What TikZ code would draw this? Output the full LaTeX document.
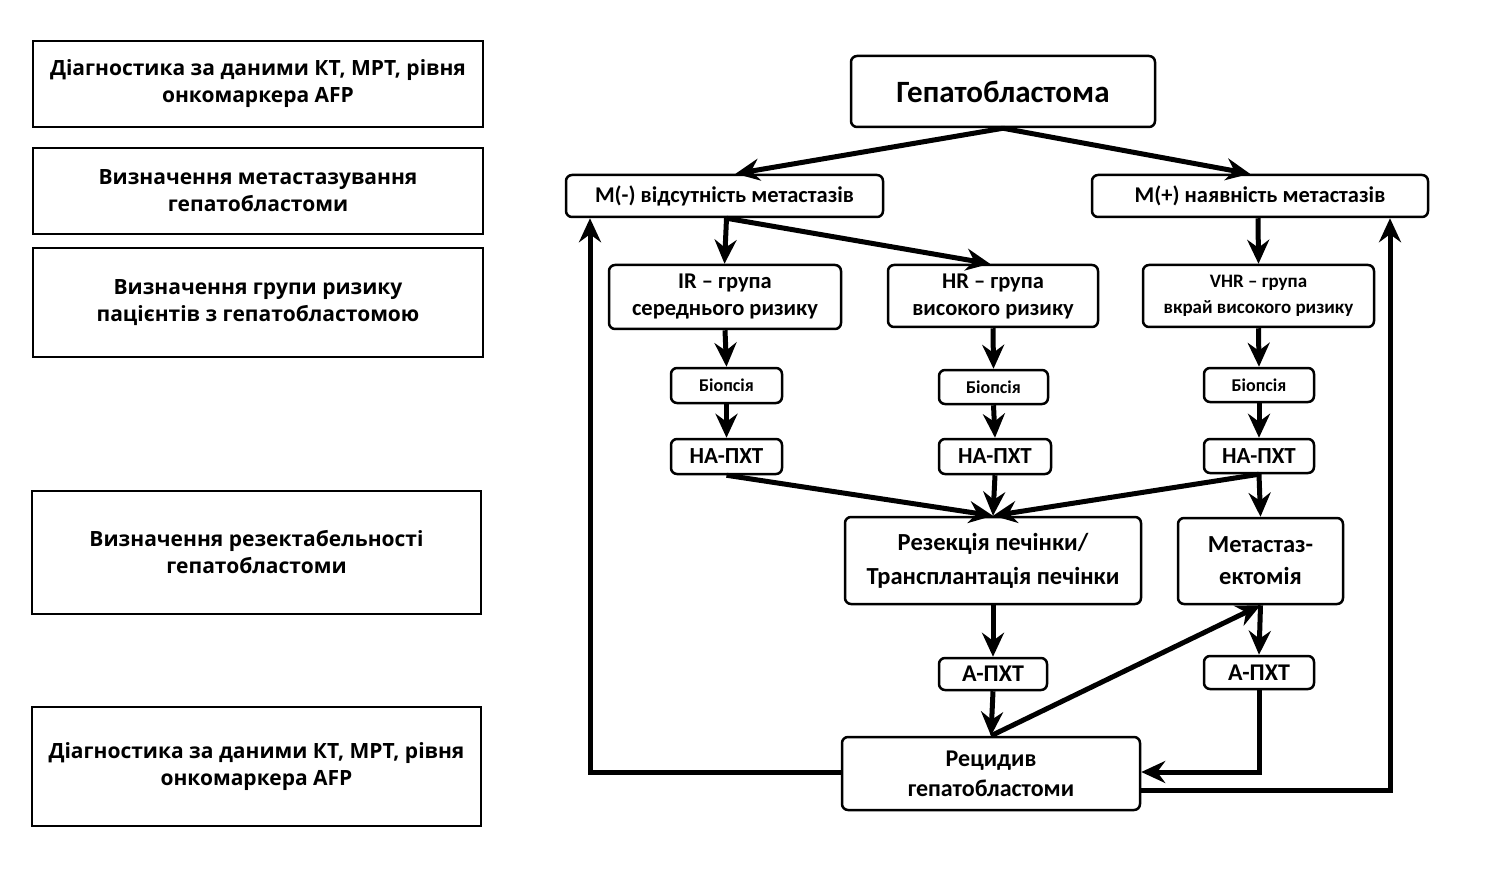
\documentclass[tikz,border=0pt]{standalone}
\usepackage{fontspec}
\setmainfont{Carlito}
\newfontfamily\leftfont{Open Sans}
\usetikzlibrary{arrows.meta}
\newcommand\bx[7]{%
  \pgfmathsetmacro\cxx{(#3+#5)/2}\pgfmathsetmacro\cyy{(#4+#6)/2}%
  \pgfmathsetmacro\ww{#5-#3}\pgfmathsetmacro\hh{#6-#4}%
  \node[#1,minimum width=\ww pt,minimum height=\hh pt] (#2) at (\cxx,\cyy) {#7};}
\begin{document}
\begin{tikzpicture}[x=1pt,y=-1pt,
  lbox/.style={draw,line width=2.5pt,inner sep=0pt,align=center,font=\leftfont\bfseries\fontsize{21}{27}\selectfont},
  rbox/.style={draw,line width=2.5pt,rounded corners=6pt,inner sep=0pt,align=center,font=\bfseries\fontsize{22.5}{27}\selectfont},
  arr/.style={line width=5pt,-{Stealth[length=24pt,width=22pt,inset=8pt]}}]
\useasboundingbox (0,0) rectangle (1494,885);
% left column
\bx{lbox}{L1}{33}{41}{483}{127}{Діагностика за даними КТ, МРТ, рівня\\онкомаркера AFP}
\bx{lbox}{L2}{33}{148}{483}{234}{Визначення метастазування\\гепатобластоми}
\bx{lbox}{L3}{33}{248}{483}{357}{Визначення групи ризику\\пацієнтів з гепатобластомою}
\bx{lbox}{L4}{32}{491}{481}{614}{Визначення резектабельності\\гепатобластоми}
\bx{lbox}{L5}{32}{707}{481}{826}{Діагностика за даними КТ, МРТ, рівня\\онкомаркера AFP}
% right flow
\bx{rbox,font=\bfseries\fontsize{31}{33}\selectfont}{top}{851}{56}{1155}{127}{Гепатобластома}
\bx{rbox}{mneg}{566}{175}{883}{217}{M(-) відсутність метастазів}
\bx{rbox}{mpos}{1092}{175}{1428}{217}{M(+) наявність метастазів}
\bx{rbox}{ir}{609}{265}{841}{329}{IR – група\\середнього ризику}
\bx{rbox}{hr}{888}{265}{1098}{327}{HR – група\\високого ризику}
\bx{rbox,font=\bfseries\fontsize{19}{26}\selectfont}{vhr}{1143}{265}{1374}{327}{VHR – група\\вкрай високого ризику}
\bx{rbox,font=\bfseries\fontsize{18}{20}\selectfont}{b1}{671}{368}{782}{403}{Біопсія}
\bx{rbox,font=\bfseries\fontsize{18}{20}\selectfont}{b2}{939}{370}{1048}{404}{Біопсія}
\bx{rbox,font=\bfseries\fontsize{18}{20}\selectfont}{b3}{1204}{368}{1314}{402}{Біопсія}
\bx{rbox,font=\bfseries\fontsize{23}{24}\selectfont}{n1}{671}{439}{782}{474}{НА-ПХТ}
\bx{rbox,font=\bfseries\fontsize{23}{24}\selectfont}{n2}{939}{439}{1051}{474}{НА-ПХТ}
\bx{rbox,font=\bfseries\fontsize{23}{24}\selectfont}{n3}{1204}{439}{1314}{473}{НА-ПХТ}
\bx{rbox,font=\bfseries\fontsize{24.5}{34}\selectfont}{res}{845}{517}{1141}{604}{Резекція печінки/\\Трансплантація печінки}
\bx{rbox,font=\bfseries\fontsize{24.5}{32}\selectfont}{met}{1178}{518}{1343}{604}{Метастаз-\\ектомія}
\bx{rbox,font=\bfseries\fontsize{24}{25}\selectfont}{a1}{939}{658}{1047}{690}{А-ПХТ}
\bx{rbox,font=\bfseries\fontsize{24}{25}\selectfont}{a2}{1204}{656}{1314}{689}{А-ПХТ}
\bx{rbox,font=\bfseries\fontsize{24}{30}\selectfont}{rec}{842}{737}{1140}{810}{Рецидив\\гепатобластоми}
% connectors
\draw[arr] (top.south) -- ([xshift=11]mneg.north);
\draw[arr] (top.south) -- ([xshift=-10]mpos.north);
\draw[arr] ([xshift=2]mneg.south) -- (mneg.south |- ir.north);
\draw[arr] ([xshift=2]mneg.south) -- ([xshift=-3]hr.north);
\draw[arr] ([xshift=-2]mpos.south) -- (vhr.north);
\draw[arr] (ir.south) -- (b1.north);
\draw[arr] (b1.south) -- (n1.north);
\draw[arr] (hr.south) -- (b2.north);
\draw[arr] (b2.south) -- (n2.north);
\draw[arr] (vhr.south) -- (b3.north);
\draw[arr] (b3.south) -- (n3.north);
\draw[arr] (n1.south) -- (res.north);
\draw[arr] (n2.south) -- (res.north);
\draw[arr] (n3.south) -- (res.north);
\draw[arr] (n3.south) -- (met.north);
\draw[arr] (res.south) -- (a1.north);
\draw[arr] (a1.south) -- (rec.north);
\draw[arr] (rec.north) -- (met.south);
\draw[arr] (met.south) -- (a2.north);
\coordinate (c1) at (1260,772);
\draw[arr] (a2.south) -- (a2.south |- c1) -- (rec.east |- c1);
\coordinate (c2) at (590,772);
\draw[arr] (rec.west |- c2) -- (c2) -- (c2 |- mneg.south);
\coordinate (c3) at (1390,790);
\draw[arr] (rec.east |- c3) -- (c3) -- (c3 |- mpos.south);
\end{tikzpicture}
\end{document}
